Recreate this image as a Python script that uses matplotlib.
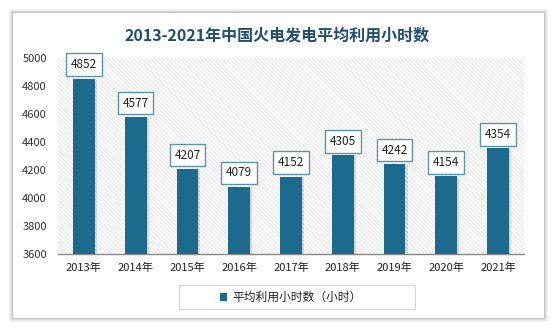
import matplotlib
matplotlib.use('Agg')
import matplotlib.pyplot as plt
from matplotlib.patches import Rectangle

plt.rcParams['font.family'] = ['Noto Sans CJK SC', 'DejaVu Sans']

years = ['2013年', '2014年', '2015年', '2016年', '2017年', '2018年', '2019年', '2020年', '2021年']
hours = [4852, 4577, 4207, 4079, 4152, 4305, 4242, 4154, 4354]
y_ticks = [3600, 3800, 4000, 4200, 4400, 4600, 4800, 5000]

bar_color = '#1c6a8e'
title_color = '#1f4e6e'

fig = plt.figure(figsize=(5.54, 3.31), dpi=100)
fig.patch.set_facecolor('white')

# card with soft shadow
for i, a in enumerate([0.04, 0.05, 0.06, 0.08]):
    off = (4 - i) / 554
    fig.patches.append(Rectangle((13 / 554 - off, 13 / 331 - off * 1.67),
                                 531 / 554 + 2 * off, 305 / 331 + 2 * off * 1.67,
                                 transform=fig.transFigure, facecolor='#000000',
                                 alpha=a, edgecolor='none', zorder=0))
fig.patches.append(Rectangle((13 / 554, 13 / 331), 531 / 554, 305 / 331,
                             transform=fig.transFigure, facecolor='white',
                             edgecolor='none', zorder=1))

ax = fig.add_axes([58 / 554, 77 / 331, 466 / 554, 196 / 331])
ax.set_zorder(2)
ax.set_facecolor('white')

# hatched plot background
plt.rcParams['hatch.color'] = '#dcdcdc'
plt.rcParams['hatch.linewidth'] = 0.5
ax.add_patch(Rectangle((0, 0), 1, 1, transform=ax.transAxes, facecolor='white',
                       edgecolor='#dcdcdc', hatch='\\' * 8, linewidth=0, zorder=0))

x = range(len(years))
width = 0.42
base = y_ticks[0]
heights = [h - base for h in hours]

# bar shadows
ax.bar([i + 0.04 for i in x], [h - 8 for h in heights], width, bottom=base,
       color='#9a9a9a', alpha=0.35, zorder=2, linewidth=0)
ax.bar(x, heights, width, bottom=base, color=bar_color, zorder=3, linewidth=0)

for i, h in zip(x, hours):
    ax.text(i, h + 100, str(h), ha='center', va='center', fontsize=8.5,
            color='#222222', zorder=5,
            bbox=dict(boxstyle='square,pad=0.4', facecolor='white',
                      edgecolor='#5b93ad', linewidth=1.0))

ax.set_xlim(-0.5, len(years) - 0.5)
ax.set_ylim(3600, 5000)
ax.set_yticks(y_ticks)
ax.set_yticklabels([str(t) for t in y_ticks], fontsize=8, color='#333333')
ax.set_xticks(list(x))
ax.set_xticklabels(years, fontsize=8, color='#222222')
ax.tick_params(axis='both', length=0)
ax.tick_params(axis='y', pad=8)
ax.tick_params(axis='x', pad=6)
for side in ['top', 'right', 'left']:
    ax.spines[side].set_visible(False)
ax.spines['bottom'].set_color('#888888')
ax.spines['bottom'].set_linewidth(1.0)

fig.text(0.5, 296 / 331, '2013-2021年中国火电发电平均利用小时数', ha='center', va='center',
         fontsize=11.5, fontweight='bold', color=title_color, zorder=3)

# legend box
fig.patches.append(Rectangle((179 / 554, 22 / 331), 236 / 554, 24 / 331,
                             transform=fig.transFigure, facecolor='white',
                             edgecolor='#d8d8d8', linewidth=0.8, zorder=3))
fig.patches.append(Rectangle((220 / 554, 30 / 331), 7 / 554, 8 / 331,
                             transform=fig.transFigure, facecolor=bar_color,
                             edgecolor='none', zorder=4))
fig.text(232 / 554, 34 / 331, '平均利用小时数（小时）', ha='left', va='center',
         fontsize=8.5, color='#222222', zorder=4)

fig.savefig('out.png', dpi=100)
